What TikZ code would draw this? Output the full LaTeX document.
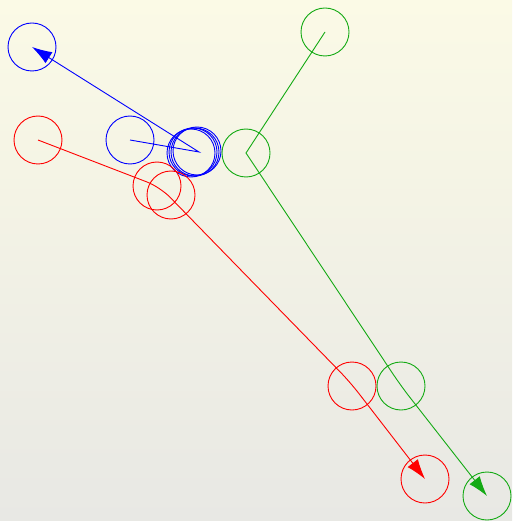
\documentclass[tikz,border=0pt]{standalone}
\usetikzlibrary{arrows.meta}
\definecolor{bgtop}{RGB}{251,250,230}
\definecolor{bgbot}{RGB}{232,232,228}
\definecolor{pgreen}{RGB}{20,170,20}
\begin{document}
\begin{tikzpicture}[x=1pt,y=-1pt,
  ctrl/.style={circle,draw,minimum size=48pt,inner sep=0pt,line width=0.9pt},
  curve/.style={line width=0.9pt,rounded corners=10pt},
  tip/.style={-{Latex[length=20pt,width=13pt]}}]
  % background
  \shade[top color=bgtop,bottom color=bgbot] (0,0) rectangle (512,521);
  \useasboundingbox (0,0) rectangle (512,521);

  % blue path
  \node[ctrl,blue] (b1) at (130,140) {};
  \node[ctrl,blue] (b2) at (191,153) {};
  \node[ctrl,blue] (b3) at (193,152) {};
  \node[ctrl,blue] (b4) at (195,152) {};
  \node[ctrl,blue] (b5) at (197,151) {};
  \node[ctrl,blue] (b6) at (32,47) {};
  \coordinate (bk) at (199,152);
  \draw[curve,blue,tip,sharp corners] (b1.center) -- (bk) -- (b6.center);

  % red path
  \node[ctrl,red] (r1) at (38,140) {};
  \node[ctrl,red] (r2) at (157,186) {};
  \node[ctrl,red] (r3) at (171,195) {};
  \node[ctrl,red] (r4) at (352,386) {};
  \node[ctrl,red] (r5) at (425,479) {};
  \coordinate (rk1) at (160,187);
  \coordinate (rk2) at (350,382);
  \draw[curve,red,tip,rounded corners=14pt] (r1.center) -- (rk1) -- (rk2) -- (r5.center);

  % green path
  \node[ctrl,pgreen] (g1) at (325,32) {};
  \node[ctrl,pgreen] (g2) at (246,153) {};
  \node[ctrl,pgreen] (g3) at (401,386) {};
  \node[ctrl,pgreen] (g4) at (487,496) {};
  \draw[curve,pgreen,tip,rounded corners=0pt] (g1.center) -- (g2.center)
    [rounded corners=14pt] -- (g3.center) -- (g4.center);
\end{tikzpicture}
\end{document}
